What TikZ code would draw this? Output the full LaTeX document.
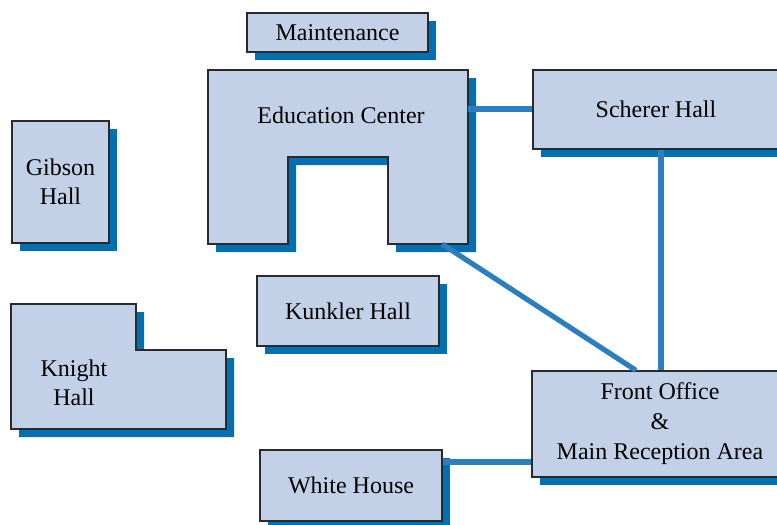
\documentclass[tikz,border=0pt]{standalone}
\usepackage{fontspec}
\setmainfont{Liberation Serif}
\usepackage{tikz}
\usetikzlibrary{shadows,positioning}

\definecolor{bldgfill}{HTML}{C3D1E8}
\definecolor{bldgshadow}{HTML}{0070B3}
\definecolor{pathblue}{HTML}{2C7FBF}
\definecolor{bldgedge}{HTML}{2A2A2A}

\tikzset{
  bldg/.style={draw=bldgedge, line width=0.6pt, fill=bldgfill, font=\fontsize{12}{14.5}\selectfont,
    align=center, inner sep=0pt,
    drop shadow={shadow xshift=4pt, shadow yshift=-4pt, fill=bldgshadow, opacity=1}},
  bldgtext/.style={font=\fontsize{12}{14.5}\selectfont, align=center},
  walk/.style={draw=pathblue, line width=2.6pt}
}

\begin{document}
\begin{tikzpicture}[x=0.5pt, y=-0.5pt]
\useasboundingbox (0,0) rectangle (777,525);
\clip (0,0) rectangle (777,525);

% odd shaped buildings
\draw [bldg] (208,70) -- (468,70) -- (468,244) -- (388,244) -- (388,157) -- (288,157) -- (288,244) -- (208,244) -- cycle;
\node (edu) at (341,115) [bldgtext] {Education Center};
\coordinate (edu_east) at (468,109);
\coordinate (edu_leg) at (442,244);

\draw [bldg] (11,304) -- (136,304) -- (136,350) -- (226,350) -- (226,429) -- (11,429) -- cycle;
\node (knight) at (74,383) [bldgtext] {Knight\\Hall};

% plain buildings
\node (maint) at (337.5,32.5) [bldg, minimum width=90.5pt, minimum height=19.5pt] {Maintenance};
\node (gibson) at (60.5,182) [bldg, minimum width=48.5pt, minimum height=61pt] {Gibson\\Hall};
\node (kunkler) at (348,311) [bldg, minimum width=91pt, minimum height=35pt] {Kunkler Hall};
\node (white) at (351,485.5) [bldg, minimum width=91pt, minimum height=35.5pt] {White House};
\node (scherer) at (656,109.5) [bldg, minimum width=123pt, minimum height=39.5pt] {Scherer Hall};
\node (front) at (660,424) [bldg, minimum width=128pt, minimum height=53pt, font=\fontsize{12}{15}\selectfont] {Front Office\\\&\\Main Reception Area};
\coordinate (white_link) at ([yshift=11.75pt]white.east);
\coordinate (scherer_link) at ([xshift=2.5pt]scherer.south);

% walkways
\draw [walk] (edu_east) -- (scherer.west |- edu_east);
\draw [walk] (scherer_link) -- (scherer_link |- front.north);
\draw [walk] (edu_leg) -- ([xshift=-12pt]front.north);
\draw [walk] (white_link) -- (front.west |- white_link);

\end{tikzpicture}
\end{document}
